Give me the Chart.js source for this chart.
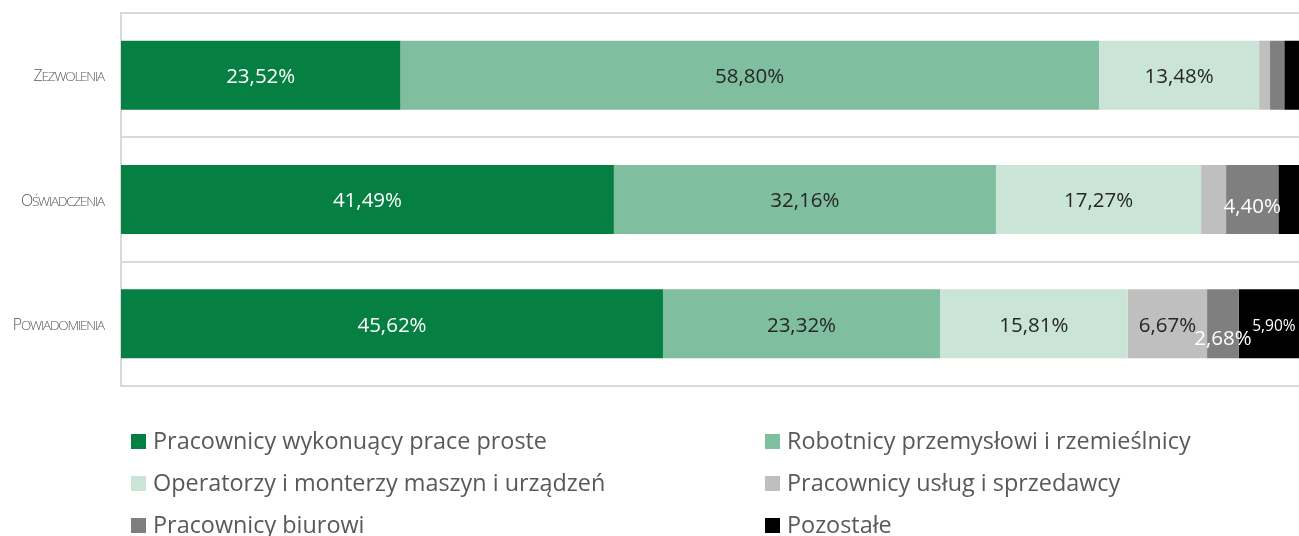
<!DOCTYPE html>
<html>
<head>
<meta charset="utf-8">
<script src="https://cdn.jsdelivr.net/npm/chart.js@4/dist/chart.umd.min.js"></script>
<style>
html,body{margin:0;padding:0;background:#fff;overflow:hidden;}
#wrap{position:relative;width:1310px;height:536px;}
canvas{display:block;}
</style>
</head>
<body>
<div id="wrap"><canvas id="c" width="1310" height="536"></canvas></div>
<script>
const categories = ['Zezwolenia', 'Oświadczenia', 'Powiadomienia'];
const seriesNames = [
  'Pracownicy wykonuący prace proste',
  'Robotnicy przemysłowi i rzemieślnicy',
  'Operatorzy i monterzy maszyn i urządzeń',
  'Pracownicy usług i sprzedawcy',
  'Pracownicy biurowi',
  'Pozostałe'
];
const praceProste = [23.52, 41.49, 45.62];
const robotnicy = [58.80, 32.16, 23.32];
const operatorzy = [13.48, 17.27, 15.81];
const uslugi = [0.92, 2.10, 6.67];
const biurowi = [1.20, 4.40, 2.68];
const pozostale = [2.08, 2.58, 5.90];

const seriesValues = [praceProste, robotnicy, operatorzy, uslugi, biurowi, pozostale];
const colors = ['#067F42', '#7FBE9E', '#CAE5D8', '#BFBFBF', '#7F7F7F', '#000000'];
const labelColors = ['#FFFFFF', '#262626', '#262626', '#262626', '#FFFFFF', '#FFFFFF'];
const FONT = '"Open Sans", "DejaVu Sans", sans-serif';

const labelTweaks = { '4-1': {dy: 6}, '4-2': {dy: 13}, '5-2': {dy: 1, size: 15.5} };

const dataLabelPlugin = {
  id: 'dataLabels',
  afterDatasetsDraw(chart) {
    const ctx = chart.ctx;
    ctx.save();
    chart.data.datasets.forEach((ds, i) => {
      const meta = chart.getDatasetMeta(i);
      meta.data.forEach((bar, j) => {
        const v = ds.data[j];
        if (v < 2.6) return;
        const tw = labelTweaks[i + '-' + j] || {};
        const x = (bar.x + bar.base) / 2 + (tw.dx || 0);
        const y = bar.y + 2 + (tw.dy || 0);
        ctx.font = (tw.size || 20.5) + 'px ' + FONT;
        ctx.fillStyle = labelColors[i];
        ctx.textAlign = 'center';
        ctx.textBaseline = 'middle';
        ctx.fillText(v.toFixed(2).replace('.', ',') + '%', x, y);
      });
    });
    ctx.restore();
  }
};

const catLabelPlugin = {
  id: 'catLabels',
  afterDraw(chart) {
    const ctx = chart.ctx;
    const ys = chart.scales.y;
    ctx.save();
    ctx.fillStyle = '#595959';
    ctx.textBaseline = 'alphabetic';
    ctx.textAlign = 'left';
    categories.forEach((name, i) => {
      const y = ys.getPixelForValue(i) + 6;
      const first = name.charAt(0).toUpperCase();
      const rest = name.slice(1).toUpperCase();
      if ('letterSpacing' in ctx) ctx.letterSpacing = '-1.2px';
      ctx.font = '300 13.5px ' + FONT;
      const wRest = ctx.measureText(rest).width;
      ctx.font = '300 16px ' + FONT;
      const wFirst = ctx.measureText(first).width;
      const right = 104;
      const x0 = right - wRest - wFirst;
      ctx.fillText(first, x0, y);
      ctx.font = '300 13.5px ' + FONT;
      ctx.fillText(rest, x0 + wFirst, y);
    });
    ctx.restore();
  }
};

const legendPlugin = {
  id: 'customLegend',
  afterDraw(chart) {
    const ctx = chart.ctx;
    const cols = [131, 765];
    const rows = [441, 483, 525];
    ctx.save();
    ctx.font = '23.4px ' + FONT;
    ctx.textBaseline = 'middle';
    ctx.textAlign = 'left';
    chart.data.datasets.forEach((ds, i) => {
      const x = cols[i % 2];
      const y = rows[Math.floor(i / 2)];
      ctx.fillStyle = ds.backgroundColor;
      ctx.fillRect(x, y - 7, 15, 15);
      ctx.fillStyle = '#595959';
      ctx.fillText(ds.label, x + 22, y + 1);
    });
    ctx.restore();
  }
};

new Chart(document.getElementById('c'), {
  type: 'bar',
  data: {
    labels: categories,
    datasets: seriesValues.map((vals, i) => ({
      label: seriesNames[i],
      data: vals,
      backgroundColor: colors[i],
      borderWidth: 0,
      categoryPercentage: 1,
      barPercentage: 0.555
    }))
  },
  options: {
    indexAxis: 'y',
    responsive: false,
    animation: false,
    devicePixelRatio: 1,
    layout: { padding: { top: 13, bottom: 150, left: 0, right: 1 } },
    plugins: { legend: { display: false }, tooltip: { enabled: false } },
    scales: {
      x: {
        stacked: true, min: 0, max: 100,
        ticks: { display: false },
        grid: { display: false, drawTicks: false },
        border: { display: true, color: '#D9D9D9', width: 2 },
        afterFit: s => { s.height = 0; }
      },
      y: {
        stacked: true,
        ticks: { display: false },
        grid: { offset: true, color: '#D9D9D9', lineWidth: 2, drawTicks: false },
        border: { display: true, color: '#D9D9D9', width: 2 },
        afterFit: s => { s.width = 121; }
      }
    }
  },
  plugins: [dataLabelPlugin, catLabelPlugin, legendPlugin]
});
</script>
</body>
</html>
